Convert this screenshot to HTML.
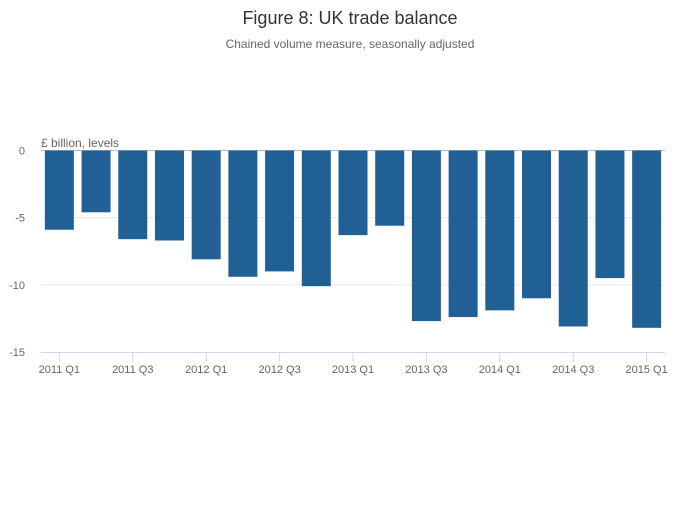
<!DOCTYPE html>
<html><head><meta charset="utf-8"><style>
body{margin:0;background:#fff;font-family:"Liberation Sans",sans-serif}
</style></head><body>
<svg width="700" height="502" xmlns="http://www.w3.org/2000/svg" id="c">
<rect width="700" height="502" fill="#fff"/>
<text x="350" y="24" text-anchor="middle" font-size="18" fill="#333">Figure 8: UK trade balance</text>
<text x="350" y="48" text-anchor="middle" font-size="12" fill="#666">Chained volume measure, seasonally adjusted</text>
<text x="41" y="147" font-size="12" fill="#666">£ billion, levels</text>
<g id="grid"></g><g id="bars"></g><g id="axes"></g>
</svg>
<script>
const categories=["2011 Q1","2011 Q2","2011 Q3","2011 Q4","2012 Q1","2012 Q2","2012 Q3","2012 Q4","2013 Q1","2013 Q2","2013 Q3","2013 Q4","2014 Q1","2014 Q2","2014 Q3","2014 Q4","2015 Q1"];
const values=[-5.9,-4.6,-6.6,-6.7,-8.1,-9.4,-9.0,-10.1,-6.3,-5.6,-12.7,-12.4,-11.9,-11.0,-13.1,-9.5,-13.2];
const yTicks=[0,-5,-10,-15];
const NS="http://www.w3.org/2000/svg";
const x0=41,x1=665,y0=150.5,yScale=(352-150.5)/15;
const band=(x1-x0)/categories.length;
const X=i=>x0+band*(i+0.5);
const Y=v=>y0-v*yScale;
function mk(t,a,p){const e=document.createElementNS(NS,t);for(const k in a)e.setAttribute(k,a[k]);p.appendChild(e);return e;}
const grid=document.getElementById('grid'),bars=document.getElementById('bars'),axes=document.getElementById('axes');
yTicks.forEach(v=>{
  if(v!==-15){const l=mk('line',{x1:x0,x2:x1,y1:Y(v),y2:Y(v),stroke:v===0?'#bbb':'#e6e6e6','stroke-width':1},grid);
  
  }
  const t=mk('text',{x:25,y:Y(v)+4,'text-anchor':'end','font-size':11,fill:'#666'},axes);
  t.textContent=v;
  
  
});
values.forEach((v,i)=>{
  const top=Math.min(Y(0),Y(v)),h=Math.abs(Y(v)-Y(0));
  const r=mk('rect',{x:X(i)-14.5,y:top,width:29,height:h,fill:'#206095'},bars);
  
  
});
const ax=mk('line',{x1:x0,x2:x1,y1:352.5,y2:352.5,stroke:'#ccd6eb','stroke-width':1},axes);


categories.forEach((c,i)=>{
  if(i%2)return;
  const tk=mk('line',{x1:X(i),x2:X(i),y1:352,y2:362,stroke:'#ccd6eb'},axes);
  
  
  const t=mk('text',{x:X(i),y:373,'text-anchor':'middle','font-size':11,fill:'#666'},axes);
  t.textContent=c;
  
  
});
</script>
</body></html>
